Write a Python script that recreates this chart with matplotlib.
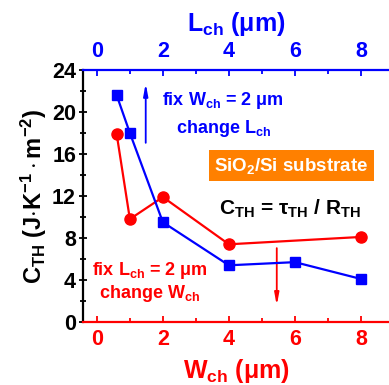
import matplotlib
matplotlib.use("Agg")
import matplotlib.pyplot as plt
from matplotlib.ticker import MultipleLocator

plt.rcParams['font.family'] = ['Liberation Sans', 'DejaVu Sans']
plt.rcParams['font.weight'] = 'bold'
plt.rcParams['mathtext.fontset'] = 'custom'
plt.rcParams['mathtext.rm'] = 'Liberation Sans:bold'
plt.rcParams['mathtext.bf'] = 'Liberation Sans:bold'
plt.rcParams['mathtext.it'] = 'Liberation Sans:bold'
plt.rcParams['mathtext.default'] = 'bf'

# Data
L_ch = [0.6, 1, 2, 4, 6, 8]
C_L = [21.6, 18.0, 9.5, 5.4, 5.7, 4.1]
W_ch = [0.6, 1, 2, 4, 8]
C_W = [17.9, 9.8, 11.9, 7.4, 8.1]
x_ticks = [0, 2, 4, 6, 8]
y_ticks = [0, 4, 8, 12, 16, 20, 24]

BLUE = '#0000FF'
RED = '#FF0000'
ORANGE = '#FF8000'

fig = plt.figure(figsize=(3.89, 3.85), dpi=100)
ax = fig.add_axes([83/389, 1-322/385, 1-83/389, (322-70)/385])
ax2 = ax.twiny()

ax.plot(W_ch, C_W, '-o', color=RED, lw=1.6, ms=8, zorder=3)
ax2.plot(L_ch, C_L, '-s', color=BLUE, lw=1.6, ms=7, zorder=3)

xlim = (-0.42, 8.85)
ax.set_xlim(*xlim)
ax2.set_xlim(*xlim)
ax.set_ylim(0, 24)
ax.set_xticks(x_ticks)
ax2.set_xticks(x_ticks)
ax.set_yticks(y_ticks)
ax.xaxis.set_minor_locator(MultipleLocator(1))
ax2.xaxis.set_minor_locator(MultipleLocator(1))
ax.yaxis.set_minor_locator(MultipleLocator(2))

for a in (ax, ax2):
    a.spines['right'].set_visible(False)
ax.spines['left'].set_linewidth(1.6)
ax.spines['bottom'].set_color(RED)
ax.spines['bottom'].set_linewidth(1.6)
ax2.spines['top'].set_color(BLUE)
ax2.spines['top'].set_linewidth(1.6)
ax2.spines['bottom'].set_visible(False)
ax2.spines['left'].set_visible(False)
ax.spines['top'].set_visible(False)

TL = 15.5
ax.tick_params(axis='x', which='both', direction='in', colors=RED, labelsize=TL,
               width=1.3, top=False, pad=5)
ax.tick_params(axis='x', which='major', length=4)
ax.tick_params(axis='x', which='minor', length=3)
ax2.tick_params(axis='x', which='both', direction='in', colors=BLUE, labelsize=TL,
                width=1.3, bottom=False, pad=6)
ax2.tick_params(axis='x', which='major', length=4)
ax2.tick_params(axis='x', which='minor', length=3)
ax.tick_params(axis='y', which='both', direction='inout', labelsize=TL, width=1.3, right=False, pad=2)
ax.tick_params(axis='y', which='major', length=6)
ax.tick_params(axis='y', which='minor', length=4)

for lab in ax.get_xticklabels() + ax2.get_xticklabels() + ax.get_yticklabels():
    lab.set_fontweight('bold')

ax.set_xlabel(r'W$_{ch}$ ($\mu$m)', color=RED, fontsize=18, fontweight='bold', labelpad=5)
ax2.set_xlabel(r'L$_{ch}$ ($\mu$m)', color=BLUE, fontsize=18, fontweight='bold', labelpad=7)
ax.set_ylabel(r'C$_{TH}$ (J$\cdot$K$^{-1}\cdot$m$^{-2}$)', fontsize=17, fontweight='bold', labelpad=2)

ax.text(3.82, 21.1, r'fix W$_{ch}$ = 2 $\mu$m', color=BLUE, fontsize=13, ha='center', va='center')
ax.text(3.85, 18.4, r'change L$_{ch}$', color=BLUE, fontsize=13, ha='center', va='center')
ax.text(5.89, 14.9, r'SiO$_2$/Si substrate', color='white', fontsize=13.5, ha='center', va='center',
        bbox=dict(boxstyle='square,pad=0.3', fc=ORANGE, ec='none'))
ax.text(5.85, 10.8, r'C$_{TH}$ = $\tau_{TH}$ / R$_{TH}$', color='black', fontsize=15,
        ha='center', va='center')
ax.text(1.6, 4.9, r'fix L$_{ch}$ = 2 $\mu$m', color=RED, fontsize=13, ha='center', va='center')
ax.text(1.6, 2.7, r'change W$_{ch}$', color=RED, fontsize=13, ha='center', va='center')

ax.annotate('', xy=(1.48, 23.0), xytext=(1.48, 16.8),
            arrowprops=dict(arrowstyle='-|>,head_length=0.7,head_width=0.13', color=BLUE, lw=1.3))
ax.annotate('', xy=(5.45, 1.3), xytext=(5.45, 7.3),
            arrowprops=dict(arrowstyle='-|>,head_length=0.7,head_width=0.13', color=RED, lw=1.3))

fig.savefig('out.png', dpi=100)
